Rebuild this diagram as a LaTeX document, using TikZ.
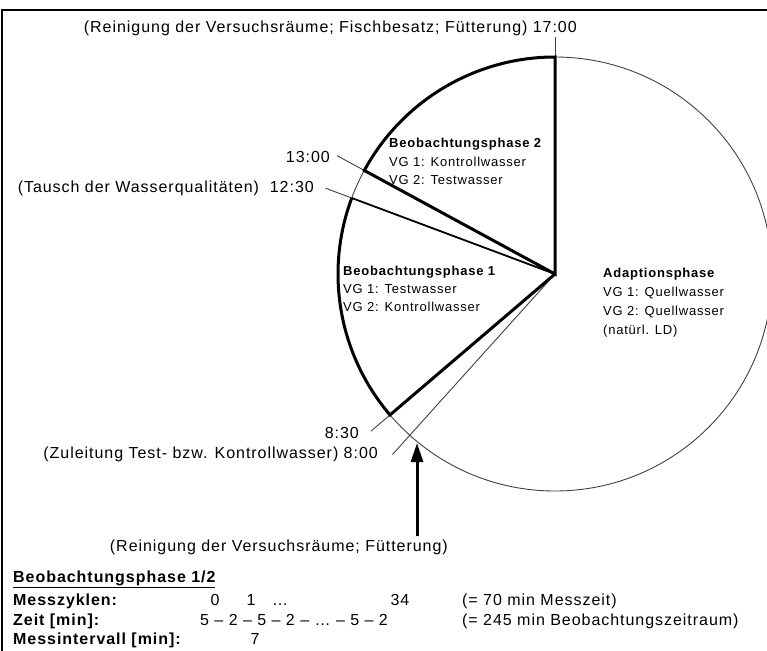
\documentclass[tikz,border=0pt]{standalone}
\usepackage{fontspec}
\setmainfont{Liberation Sans}[LetterSpace=6]
\usetikzlibrary{arrows.meta,calc}
\newcommand\outerfont{\fontsize{16}{18}\selectfont}
\newcommand\innerfont{\fontsize{13}{15}\selectfont}
\tikzset{
  thinln/.style={line width=0.9pt, black!75},
  thickln/.style={line width=3pt, black},
  midln/.style={line width=1.8pt, black},
  outer/.style={inner sep=0pt, font=\outerfont, text height=11.5pt, text depth=0pt},
  tab/.style={outer, anchor=west},
  tabb/.style={outer, anchor=west, font=\outerfont\bfseries},
  inlbl/.style={inner sep=0pt, anchor=west, font=\innerfont, text height=9.3pt, text depth=0pt},
  inhead/.style={inlbl, font=\innerfont\bfseries},
}
\begin{document}
\begin{tikzpicture}[x=1pt,y=1pt]
\useasboundingbox (0,0) rectangle (767,-650);
\clip (0,0) rectangle (767,-650);
% frame
\draw[line width=2.2pt] (2,-700) -- (2,-10) -- (800,-10);

% clock dial
\coordinate (C) at (555,-274);
\def\R{217}
\coordinate (p17) at ($(C)+(90:\R)$);
\coordinate (p13) at ($(C)+(151.5:\R)$);
\coordinate (p1230) at ($(C)+(159.5:\R)$);
\coordinate (p830) at ($(C)+(220.5:\R)$);
\coordinate (o17) at ($(C)+(90:237)$);
\coordinate (o13) at ($(C)+(151.5:248)$);
\coordinate (o1230) at ($(C)+(159.5:245)$);
\coordinate (o830) at ($(C)+(220.5:242)$);
\coordinate (o8) at ($(C)+(228:243)$);

\draw[thinln] (C) circle[radius=\R];
% time marks
\draw[thinln] (o17) -- (p17);
\draw[thinln] (o13) -- (p13);
\draw[thinln] (o1230) -- (p1230);
\draw[thinln] (o830) -- (p830);
\draw[thinln] (o8) -- (C);
% observation phase 2
\draw[thickln] (C) -- (p17) arc[start angle=90, end angle=151.5, radius=\R] -- cycle;
% observation phase 1
\draw[midln] (C) -- (p1230);
\draw[thickln] (p1230) arc[start angle=159.5, end angle=220.5, radius=\R] -- (C);

% time labels
\node[outer, anchor=east] (l17) at (577,-27) {(Reinigung der Versuchsräume; Fischbesatz; Fütterung) 17:00};
\node[outer, anchor=east] (l13) at (330,-157) {13:00};
\node[outer, anchor=east] (l1230) at (314,-187) {(Tausch der Wasserqualitäten)\ \ 12:30};
\node[outer, anchor=east] (l830) at (359,-433) {8:30};
\node[outer, anchor=east] (l8) at (378,-453) {(Zuleitung Test- bzw. Kontrollwasser) 8:00};
\node[outer, anchor=east] (lR) at (448,-546) {(Reinigung der Versuchsräume; Fütterung)};
\coordinate (tip) at (417,-443);
\coordinate (abase) at (lR.north -| tip);
\draw[line width=3pt, -{Triangle[length=19pt,width=12pt]}] ([yshift=4pt]abase) -- (tip);

% sector texts
\node[inhead] (b2) at (389,-143) {Beobachtungsphase 2};
\node[inlbl] (b2a) at (389,-162) {VG 1: Kontrollwasser};
\node[inlbl] (b2b) at (389,-180) {VG 2: Testwasser};
\node[inhead] (b1) at (343,-271) {Beobachtungsphase 1};
\node[inlbl] (b1a) at (343,-289) {VG 1: Testwasser};
\node[inlbl] (b1b) at (343,-307) {VG 2: Kontrollwasser};
\node[inhead] (ad) at (603,-273) {Adaptionsphase};
\node[inlbl] (ada) at (603,-292) {VG 1: Quellwasser};
\node[inlbl] (adb) at (603,-311) {VG 2: Quellwasser};
\node[inlbl] (adc) at (603,-330) {(natürl. LD)};

% measurement scheme
\node[tabb] (th) at (13,-577) {\underline{Beobachtungsphase 1/2}};
\node[tabb] (tz) at (13,-600) {Messzyklen:};
\node[tabb] (tt) at (13,-620) {Zeit [min]:};
\node[tabb] (ti) at (13,-639) {Messintervall [min]:};
\node[outer] (z0) at (215,-600) {0};
\node[outer] (z1) at (251,-600) {1};
\node[outer] (zd) at (280,-600) {…};
\node[outer] (z34) at (400,-600) {34};
\node[tab] (zs) at (462,-600) {(= 70 min Messzeit)};
\node[tab] (tv) at (200,-620) {5 – 2 – 5 – 2 – … – 5 – 2};
\node[tab] (ts) at (462,-620) {(= 245 min Beobachtungszeitraum)};
\node[outer] (iv) at (255,-639) {7};
\end{tikzpicture}
\end{document}
